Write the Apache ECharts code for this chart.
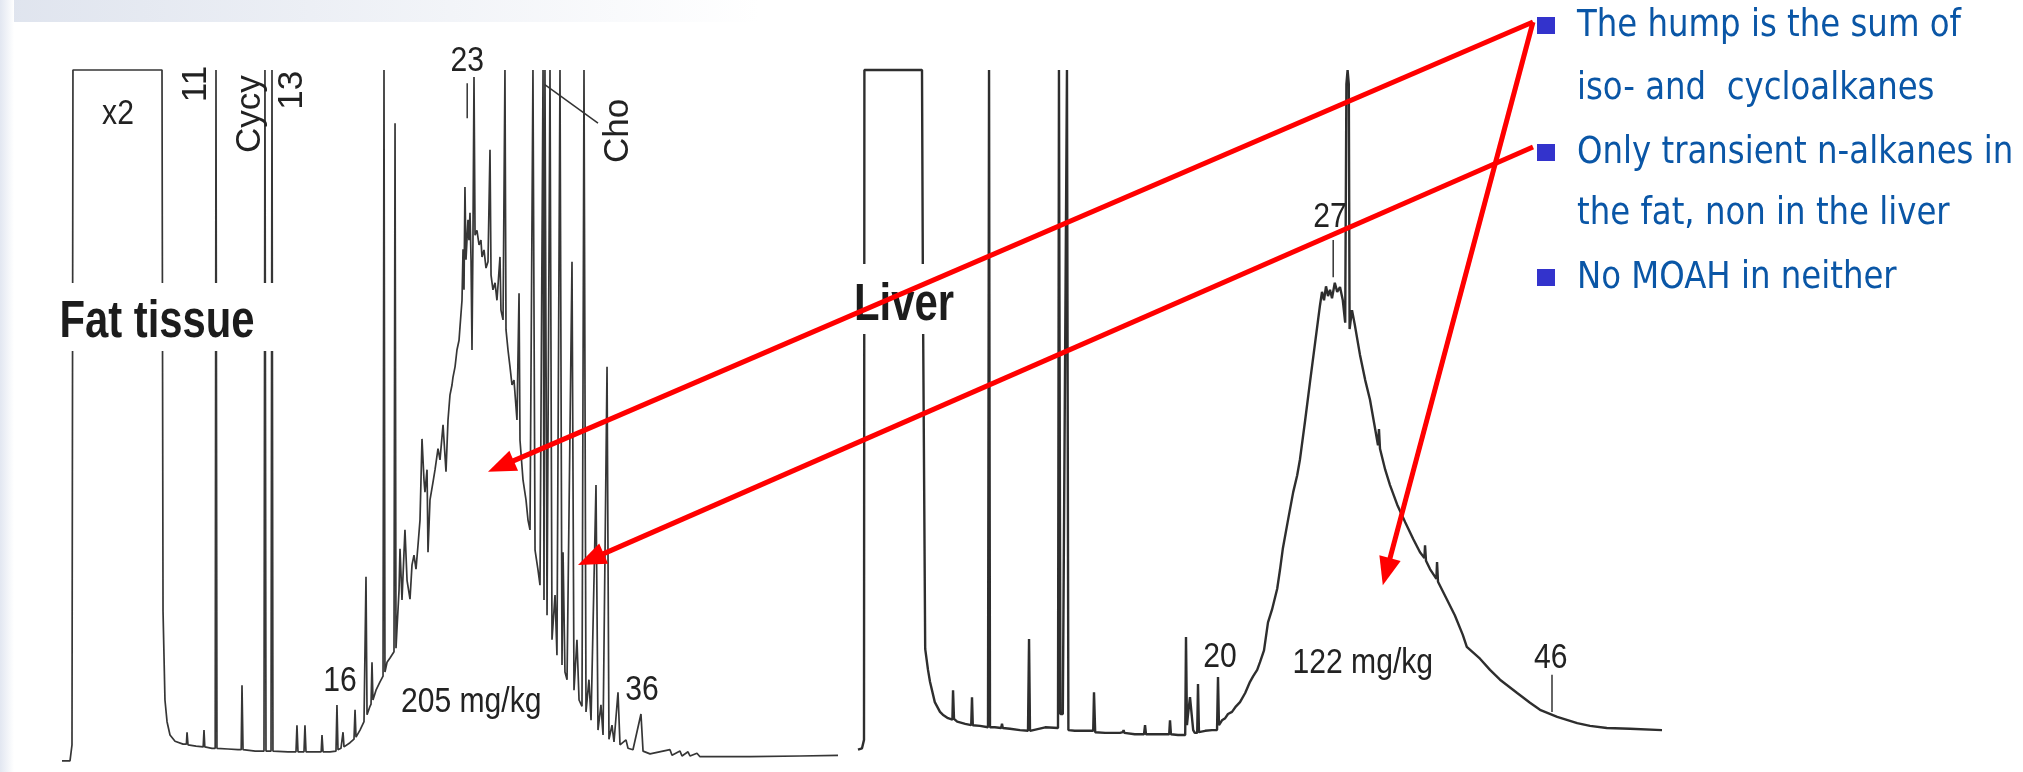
<!DOCTYPE html>
<html>
<head>
<meta charset="utf-8">
<script src="https://cdn.jsdelivr.net/npm/echarts@6/dist/echarts.min.js"></script>
<style>
  html, body { margin: 0; padding: 0; background: #fff; }
  #main { width: 2023px; height: 772px; }
</style>
</head>
<body>
<div id="main"></div>
<script>
// retention time (arbitrary units) / detector signal (% of full scale)
var fatTrace = [
  [2.75,1.3],[3.75,1.3],[4.0,3.6],[4.12,100],[15.25,100],[15.38,22.6],[15.62,10],[15.88,6.9],
  [16.25,5],[16.88,4.1],[17.88,3.7],[18.3,3.7],[18.38,5.4],[18.5,3.6],[19.5,3.4],
  [20.4,3.3],[20.5,5.7],[20.6,3.3],[21.5,3.1],[21.9,3.1],[22.0,100],[22.12,3.1],
  [23.5,3.0],[24.75,2.9],[25.15,2.9],[25.25,12.1],[25.38,2.9],[26.9,2.7],
  [28.0,2.7],[28.12,100],[28.25,2.7],[28.88,2.7],[29.0,100],[29.12,2.7],[31.0,2.6],
  [32.0,2.6],[32.12,6.4],[32.25,2.6],[33.0,2.6],[33.12,6.4],[33.25,2.6],[34.25,2.6],
  [35.15,2.6],[35.25,5.0],[35.38,2.6],[36.25,2.6],[37.0,2.7],[37.12,9.3],[37.25,2.9],
  [37.62,3.1],[37.75,3.2],[37.88,5.4],[38.0,3.3],[38.75,3.9],[39.25,4.4],[39.38,8.6],[39.5,4.7],
  [40.0,5.7],[40.5,6.9],[40.62,7.1],[40.75,27.6],[40.88,7.9],[41.25,9.1],[41.38,9.4],[41.5,15.4],
  [41.62,10.0],[42.0,11.4],[42.5,12.6],[42.88,13.4],[43.0,100],[43.12,14.0],[43.38,15.4],
  [43.75,16.0],[44.25,16.9],[44.38,92.4],[44.5,17.4],
  [44.62,20.1],[44.88,25.7],[45.0,31.6],[45.25,24.3],[45.62,34.3],[45.88,27.1],[46.25,24.4],
  [46.5,29.3],[46.75,30.7],[47.0,28.7],[47.25,32.1],[47.5,35.7],[47.75,47.3],[48.0,41.4],
  [48.12,39.7],[48.38,42.9],[48.5,31.1],[48.75,38.6],[49.12,41.1],[49.38,42.9],[49.75,45.9],
  [50.0,44.3],[50.38,49.3],[50.75,42.6],[51.0,50.0],[51.25,53.6],[51.5,55.0],[51.62,56.1],
  [51.88,57.6],[52.12,60.0],[52.38,61.4],[52.5,63.3],[52.75,67.1],[52.88,74.4],[53.0,68.6],
  [53.12,83.3],[53.25,72.9],[53.5,78.6],[53.62,75.7],[53.75,79.6],[53.88,72.9],[54.0,60.0],
  [54.12,75.7],[54.25,99.0],[54.38,76.4],[54.62,77.1],[54.88,75.0],[55.12,75.7],[55.25,73.3],
  [55.5,74.3],[55.75,71.7],[56.0,72.6],[56.25,88.6],[56.38,70.7],[56.62,68.6],[56.88,69.6],
  [57.12,67.1],[57.5,73.3],[57.62,65.7],[57.88,64.3],[58.12,100],[58.25,62.9],[58.5,60.0],
  [58.75,57.6],[59.0,55.0],[59.25,55.7],[59.62,50.0],[59.88,68.1],[60.0,47.1],[60.38,41.4],
  [60.75,38.6],[61.0,35.7],[61.25,34.3],[61.62,100],[61.88,31.4],[62.25,28.6],[62.5,26.4],
  [62.88,100],[63.0,24.3],[63.12,100],[63.38,22.1],[63.75,100],[64.0,18.6],[64.38,25.0],
  [64.62,16.4],[65.0,100],[65.25,15.0],[65.38,31.1],[65.62,14.0],[65.88,12.9],[66.5,72.6],
  [66.75,11.4],[67.12,18.6],[67.38,10.0],[67.75,9.1],[68.0,100],[68.25,8.3],[68.62,12.9],
  [68.88,7.1],[69.5,40.7],[69.75,5.7],[70.12,9.3],[70.38,5.0],[70.88,57.6],[71.12,4.4],
  [71.5,6.4],[71.75,4.0],[72.25,11.1],[72.5,3.6],[73.25,4.3],[73.5,3.1],[74.12,2.9],
  [75.12,8.0],[75.38,2.7],[76.25,2.3],[78.75,2.9],[79.0,2.1],[80.0,2.7],[80.25,2.0],
  [81.0,2.6],[81.25,2.0],[82.12,2.4],[82.5,1.9],[88.75,1.9],[95.0,2.0],[99.75,2.1]
];

var liverTrace = [
  [1.0,2.9],[1.5,3.1],[1.75,4.3],[1.8,100],[9.0,100],[9.12,67.1],[9.4,17.3],[9.75,14.3],
  [10.0,12.6],[10.6,9.7],[11.25,8.3],[11.6,7.9],[12.25,7.4],[12.8,7.2],[12.88,11.4],[13.0,7.3],
  [13.4,6.9],[14.4,6.6],[15.15,6.4],[15.25,10.4],[15.35,6.4],[16.25,6.3],[17.25,6.1],[17.38,100],
  [17.5,6.1],[18.1,6.1],[18.9,6.0],[19.0,6.6],[19.1,6.0],[20.0,5.9],[21.25,5.7],[22.25,5.6],
  [22.38,18.7],[22.5,5.6],[24.4,6.1],[26.0,6.0],[26.12,100],[26.3,8.0],[26.6,8.0],[27.12,100],
  [27.3,5.7],[28.1,5.6],[29.4,5.6],[30.4,5.6],[30.5,11.1],[30.65,5.4],[31.9,5.3],[33.75,5.3],
  [34.1,5.4],[34.2,5.7],[34.3,5.3],[35.6,5.1],[36.75,5.1],[36.88,6.4],[37.0,5.1],[38.75,5.1],
  [39.9,5.1],[40.0,7.1],[40.12,5.1],[41.0,5.0],[41.9,5.0],[42.0,19.0],[42.12,6.4],[42.25,7.9],
  [42.5,10.4],[42.9,5.7],[43.1,5.3],[43.4,5.3],[43.5,12.3],[43.62,5.4],[44.4,5.6],[45.25,5.7],
  [45.88,5.7],[46.0,13.3],[46.12,6.4],[46.5,7.1],[46.9,7.4],[47.25,8.0],[47.75,8.3],[48.25,9.1],
  [48.75,9.7],[49.4,11.0],[50.0,12.6],[50.4,13.4],[50.9,14.3],[51.25,15.4],[51.75,17.1],
  [52.25,21.1],[52.75,22.9],[53.4,25.9],[53.75,28.6],[54.1,31.6],[54.75,35.7],[55.4,39.7],
  [55.9,42.1],[56.25,44.4],[56.9,50.0],[57.5,55.4],[58.1,60.7],[58.75,66.4],[59.0,68.3],
  [59.25,67.1],[59.5,69.1],[59.75,67.7],[60.0,68.6],[60.25,67.4],[60.6,69.6],[60.9,68.3],
  [61.25,69.0],[61.6,67.1],[61.9,63.9],[62.05,98],[62.2,100],[62.35,98],[62.45,63],
  [62.75,65.7],[63.1,63.6],[63.75,59.3],[64.4,55.7],[65.0,52.9],[65.6,49.0],[66.0,46.4],
  [66.12,48.7],[66.25,45.9],[66.9,42.9],[67.5,40.7],[68.4,37.9],[69.4,35.4],[70.4,33.0],
  [71.25,31.1],[71.8,30.3],[71.88,32.1],[72.0,29.9],[72.5,28.7],[73.3,27.3],[73.38,29.7],
  [73.5,26.9],[74.6,24.4],[75.6,22.1],[76.6,19.3],[77.1,17.6],[78.75,15.9],[80.0,14.3],
  [81.25,12.9],[83.4,11.0],[85.0,9.6],[86.25,8.6],[88.4,7.6],[90.9,6.7],[92.5,6.3],
  [94.6,6.0],[97.5,5.9],[101.5,5.7]
];

// peak annotations: [text, time, signal, rotated]
var fatLabels = [
  ['x2', 9.75, 93.6, false], ['11', 19.6, 98.0, true], ['Cycy', 26.25, 93.7, true],
  ['13', 31.6, 97.1, true], ['23', 53.4, 101.3, false], ['Cho', 72.25, 91.3, true],
  ['16', 37.5, 12.7, false], ['205 mg/kg', 53.9, 9.6, false], ['36', 75.25, 11.4, false]
];
var liverLabels = [
  ['27', 60.0, 79.0, false], ['20', 46.25, 16.1, false],
  ['122 mg/kg', 64.1, 15.3, false], ['46', 87.6, 16.0, false]
];
// small marker strokes: [grid, t1, s1, t2, s2]
var markStrokes = [
  [0, 53.4, 98.1, 53.4, 93.1], [0, 63.1, 97.9, 69.75, 92.4],
  [1, 60.4, 75.7, 60.4, 70.4], [1, 87.75, 13.6, 87.75, 8.3]
];
// arrow tips: [grid, time, signal, from bullet]
var arrowTips = [[0, 56.0, 42.6, 0], [0, 67.25, 29.3, 1], [1, 66.6, 26.4, 0]];

var bulletLines = [
  'The hump is the sum of', 'iso- and  cycloalkanes', 'Only transient n-alkanes in',
  'the fat, non in the liver', 'No MOAH in neither'
];

var chart = echarts.init(document.getElementById('main'));

var option = {
  animation: false,
  backgroundColor: '#ffffff',
  grid: [
    { left: 40, top: 70, width: 800, height: 700 },
    { left: 850, top: 70, width: 832, height: 700 }
  ],
  xAxis: [
    { type: 'value', gridIndex: 0, min: 0, max: 100, show: false },
    { type: 'value', gridIndex: 1, min: 0, max: 104, show: false }
  ],
  yAxis: [
    { type: 'value', gridIndex: 0, min: 0, max: 100, show: false },
    { type: 'value', gridIndex: 1, min: 0, max: 100, show: false }
  ],
  series: [
    {
      name: 'Fat tissue', type: 'line', xAxisIndex: 0, yAxisIndex: 0, data: fatTrace,
      showSymbol: false, clip: false, lineStyle: { color: '#363636', width: 1.7 }
    },
    {
      name: 'Liver', type: 'line', xAxisIndex: 1, yAxisIndex: 1, data: liverTrace,
      showSymbol: false, clip: false, lineStyle: { color: '#2e2e2e', width: 2.4 }
    }
  ]
};
chart.setOption(option);

function toPx(g, t, s) { return chart.convertToPixel({ gridIndex: g }, [t, s]); }

function labelEl(g, l) {
  var p = toPx(g, l[1], l[2]);
  return {
    type: 'text', x: p[0], y: p[1], z: 40,
    rotation: l[3] ? Math.PI / 2 : 0,
    scaleX: l[3] ? 1 : 0.86,
    style: {
      text: l[0], fontFamily: 'Liberation Sans, Arial, sans-serif', fontSize: 35, fill: '#222',
      textAlign: 'center', textVerticalAlign: 'middle', align: 'center', verticalAlign: 'middle'
    }
  };
}

function titleEl(text, cx, cy, box) {
  return [
    { type: 'rect', z: 30, shape: box, style: { fill: '#fff' } },
    {
      type: 'text', x: cx, y: cy, z: 41, scaleX: 0.82,
      style: {
        text: text, fontFamily: 'Liberation Sans, Arial, sans-serif', fontWeight: 'bold',
        fontSize: 51, fill: '#1c1c1c',
        textAlign: 'center', textVerticalAlign: 'middle', align: 'center', verticalAlign: 'middle'
      }
    }
  ];
}

function arrowEls(x1, y1, x2, y2) {
  var dx = x2 - x1, dy = y2 - y1, len = Math.sqrt(dx * dx + dy * dy);
  var ux = dx / len, uy = dy / len, hl = 28, hw = 11;
  var bx = x2 - ux * hl, by = y2 - uy * hl;
  return [
    { type: 'line', z: 60, shape: { x1: x1, y1: y1, x2: bx + ux * 3, y2: by + uy * 3 },
      style: { stroke: '#ff0000', lineWidth: 5 } },
    { type: 'polygon', z: 60,
      shape: { points: [[x2, y2], [bx - uy * hw, by + ux * hw], [bx + uy * hw, by - ux * hw]] },
      style: { fill: '#ff0000' } }
  ];
}

var g = [];
// slide backdrop tint
g.push({ type: 'rect', z: -10, shape: { x: 0, y: 0, width: 760, height: 22 },
  style: { fill: new echarts.graphic.LinearGradient(0, 0, 1, 0, [
    { offset: 0, color: '#dfe4ee' }, { offset: 1, color: '#ffffff' }]) } });
g.push({ type: 'rect', z: -10, shape: { x: 0, y: 0, width: 14, height: 772 },
  style: { fill: new echarts.graphic.LinearGradient(0, 0, 1, 0, [
    { offset: 0, color: '#e2e7f1' }, { offset: 1, color: '#ffffff' }]) } });

fatLabels.forEach(function (l) { g.push(labelEl(0, l)); });
liverLabels.forEach(function (l) { g.push(labelEl(1, l)); });

markStrokes.forEach(function (m) {
  var a = toPx(m[0], m[1], m[2]), b = toPx(m[0], m[3], m[4]);
  g.push({ type: 'line', z: 40, shape: { x1: a[0], y1: a[1], x2: b[0], y2: b[1] },
    style: { stroke: '#333', lineWidth: 1.5 } });
});

g = g.concat(titleEl('Fat tissue', 157, 323, { x: 52, y: 283, width: 228, height: 68 }));
g = g.concat(titleEl('Liver', 904, 306, { x: 846, y: 264, width: 116, height: 70 }));

// bullets
var bulletRows = [0, 2, 4];
var lineY = [26, 89, 153, 214, 278];
bulletRows.forEach(function (r) {
  g.push({ type: 'rect', z: 50, shape: { x: 1537, y: lineY[r] - 9, width: 18, height: 17 },
    style: { fill: '#3333cc' } });
});
bulletLines.forEach(function (t, i) {
  g.push({
    type: 'text', x: 1577, y: lineY[i], z: 50, scaleX: 0.875,
    style: { text: t, fontFamily: 'DejaVu Sans, Verdana, sans-serif', fontSize: 37, fill: '#0a56a6',
      textAlign: 'left', textVerticalAlign: 'middle', align: 'left', verticalAlign: 'middle' }
  });
});

var starts = [[1533, 22], [1533, 147]];
arrowTips.forEach(function (a) {
  var tip = toPx(a[0], a[1], a[2]), s = starts[a[3]];
  g = g.concat(arrowEls(s[0], s[1], tip[0], tip[1]));
});

chart.setOption({ graphic: { elements: g } });
</script>
</body>
</html>
